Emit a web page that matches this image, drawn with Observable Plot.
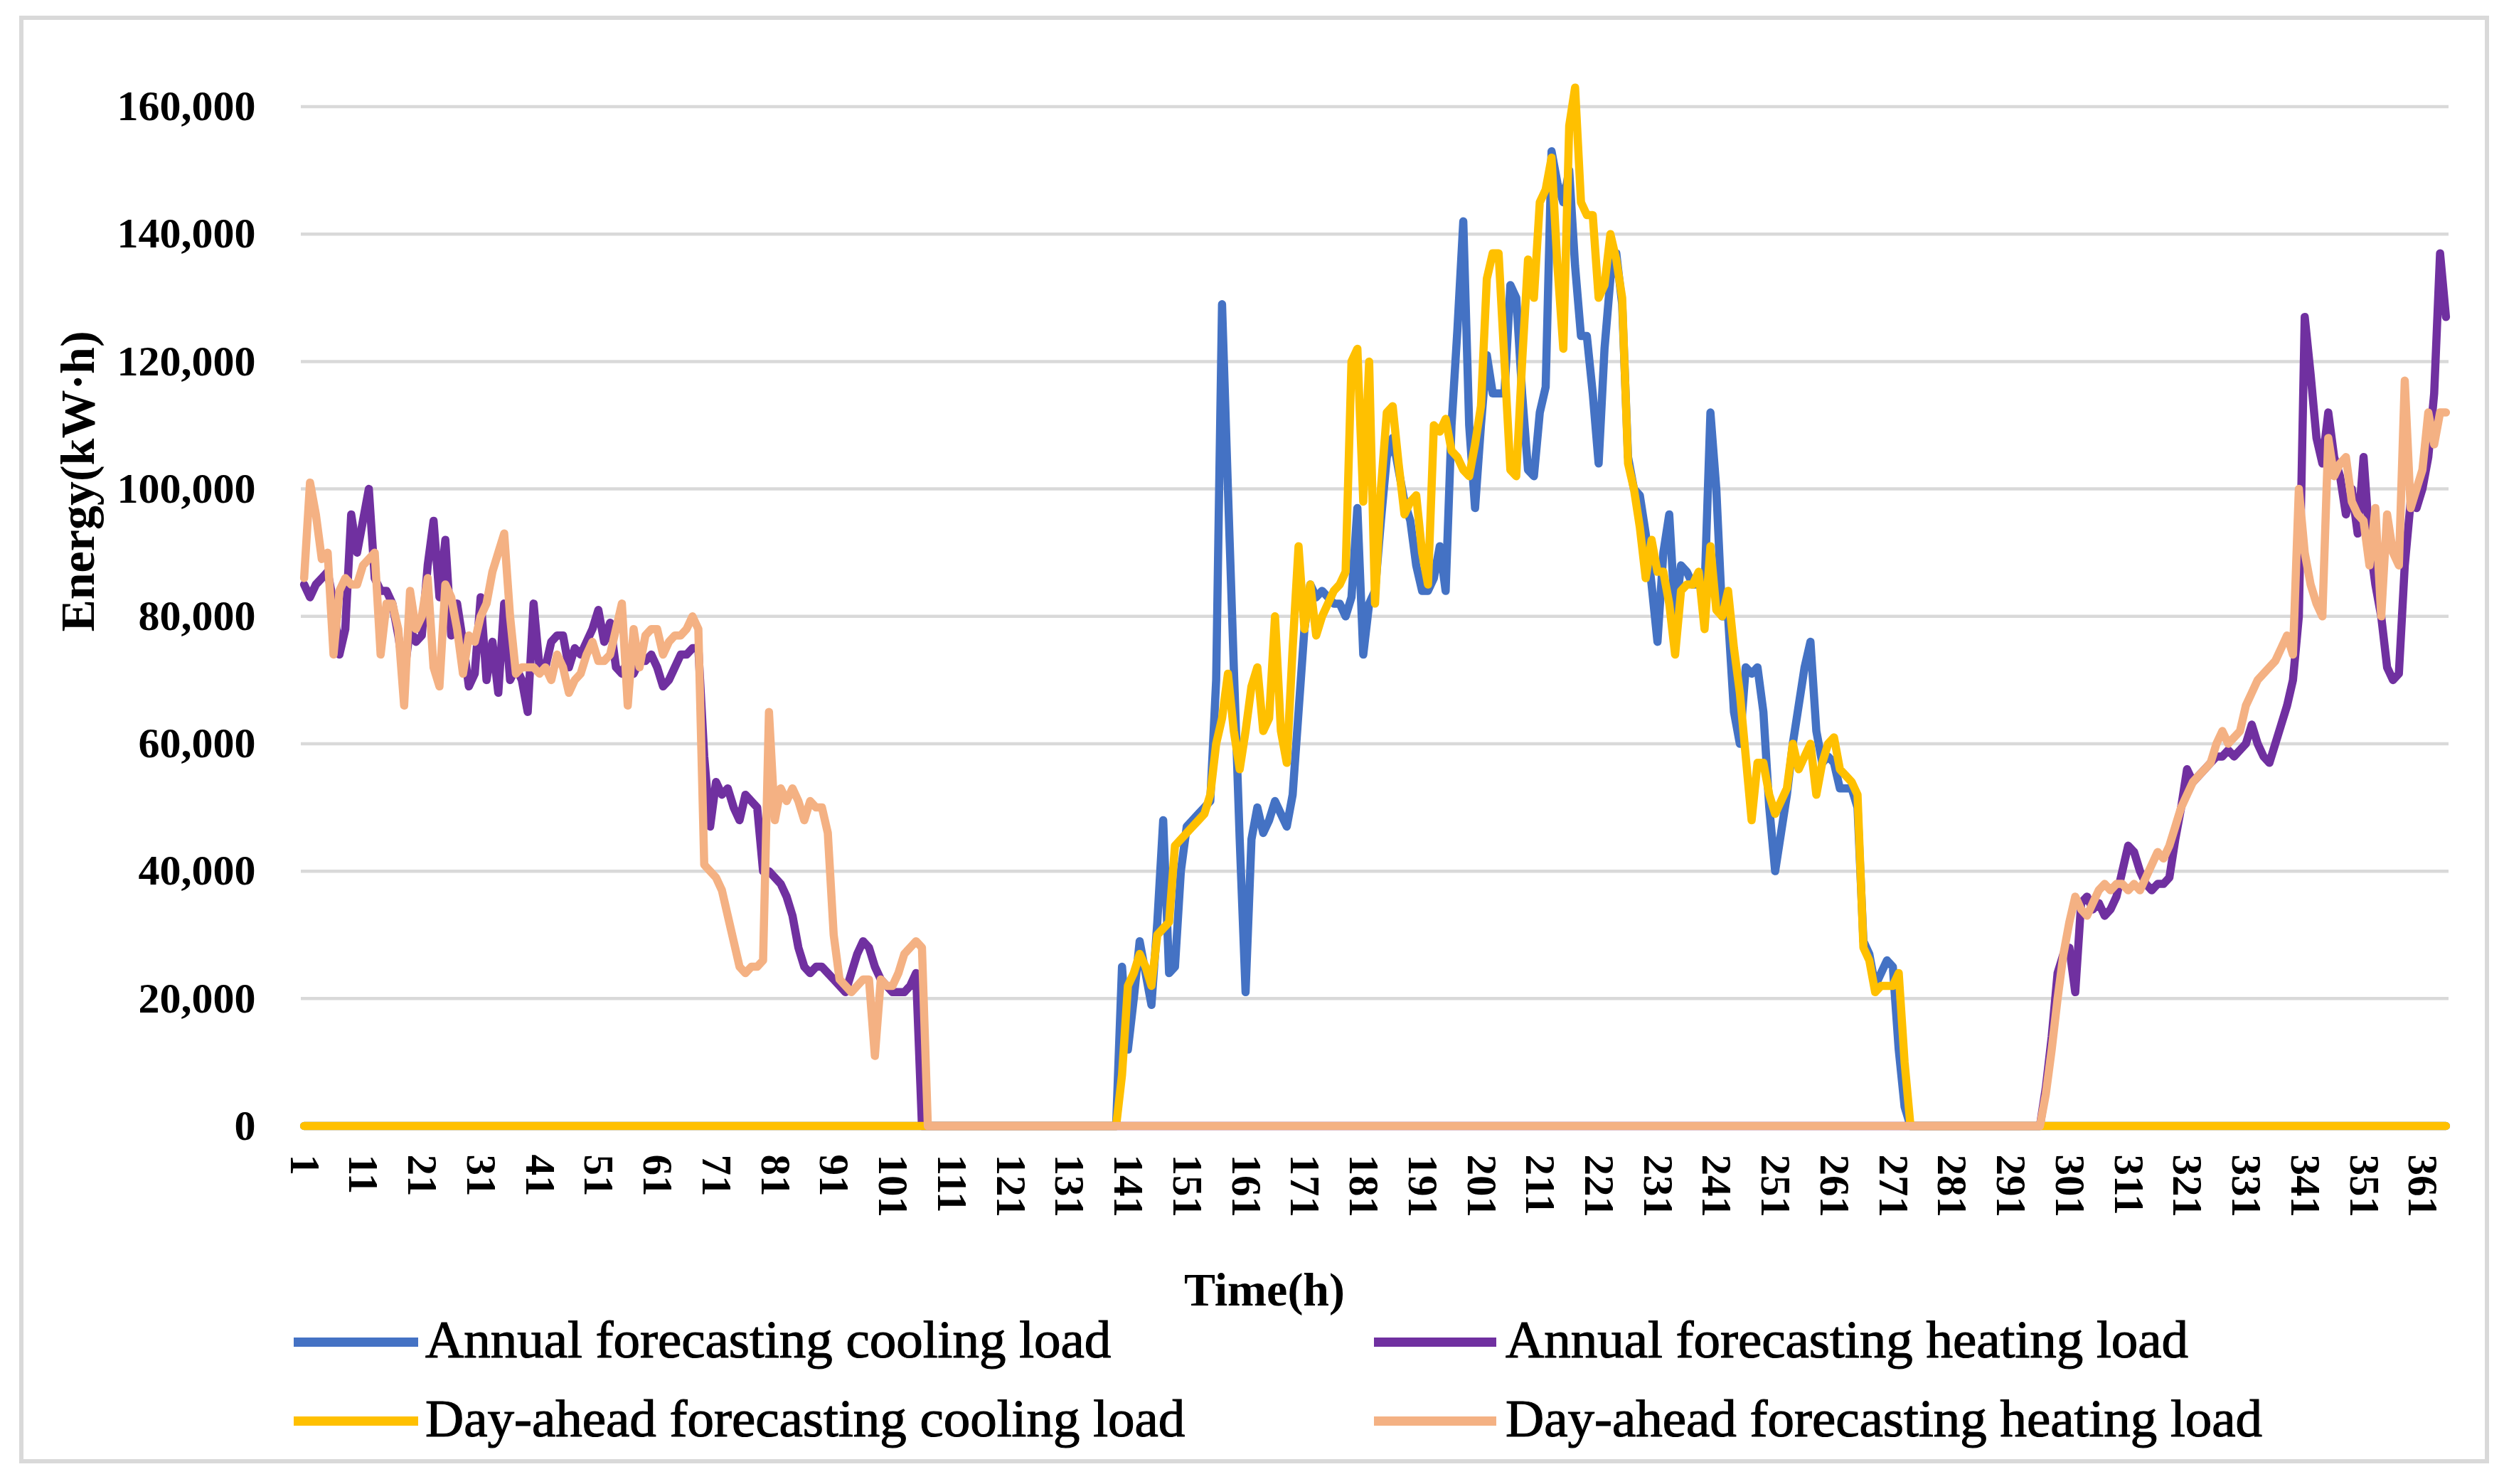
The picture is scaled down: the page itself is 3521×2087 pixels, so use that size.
<!DOCTYPE html>
<html><head><meta charset="utf-8">
<script src="https://cdn.jsdelivr.net/npm/d3@7"></script>
<script src="https://cdn.jsdelivr.net/npm/@observablehq/plot@0.6"></script>
<style>
html,body{margin:0;padding:0;background:#fff;}
#wrap{position:relative;width:3521px;height:2087px;overflow:hidden;background:#fff;font-family:"Liberation Serif",serif;color:#000;}
#frame{position:absolute;left:27px;top:22px;width:3473px;height:2036px;border:6px solid #d9d9d9;box-sizing:border-box;}
#chart{position:absolute;left:0;top:0;}
.lab{position:absolute;white-space:nowrap;line-height:1;}
.leg{-webkit-text-stroke:1.2px #000;}
.sw{position:absolute;height:13px;}
</style></head><body>
<div id="wrap"><div id="frame"></div><div id="chart"></div></div>
<script>
// values in thousand kW·h, one per day (1..365)
const xTickLabels = [1,11,21,31,41,51,61,71,81,91,101,111,121,131,141,151,161,171,181,191,201,211,221,231,241,251,261,271,281,291,301,311,321,331,341,351,361];
const yTicks = [0,20000,40000,60000,80000,100000,120000,140000,160000];

const annualCooling = [
0,0,0,0,0,0,0,0,0,0,0,0,0,0,0,0,0,0,0,0,
0,0,0,0,0,0,0,0,0,0,0,0,0,0,0,0,0,0,0,0,
0,0,0,0,0,0,0,0,0,0,0,0,0,0,0,0,0,0,0,0,
0,0,0,0,0,0,0,0,0,0,0,0,0,0,0,0,0,0,0,0,
0,0,0,0,0,0,0,0,0,0,0,0,0,0,0,0,0,0,0,0,
0,0,0,0,0,0,0,0,0,0,0,0,0,0,0,0,0,0,0,0,
0,0,0,0,0,0,0,0,0,0,0,0,0,0,0,0,0,0,0,25,
12,20,29,24,19,32,48,24,25,40,47,48,49,50,51,70,129,100,72,45,
21,45,50,46,48,51,49,47,52,65,78,85,83,84,83,82,82,80,83,97,
74,82,84,95,105,108,103,98,95,88,84,84,86,91,84,110,125,142,110,97,
110,121,115,115,115,132,130,115,103,102,112,116,153,148,145,150,135,124,124,115,
104,122,133,137,129,105,100,99,93,85,76,90,96,80,88,87,85,85,84,112,
100,80,80,65,60,72,71,72,65,50,40,46,52,60,66,72,76,62,57,58,
57,53,53,53,50,29,27,22,24,26,25,12,3,0,0,0,0,0,0,0,
0,0,0,0,0,0,0,0,0,0,0,0,0,0,0,0,0,0,0,0,
0,0,0,0,0,0,0,0,0,0,0,0,0,0,0,0,0,0,0,0,
0,0,0,0,0,0,0,0,0,0,0,0,0,0,0,0,0,0,0,0,
0,0,0,0,0,0,0,0,0,0,0,0,0,0,0,0,0,0,0,0,
0,0,0,0,0];

const annualHeating = [
85,83,85,86,87,82,74,78,96,90,95,100,86,84,84,82,77,71,78,76,
77,88,95,83,92,77,82,76,69,71,83,70,76,68,82,70,72,70,65,82,
72,72,76,77,77,72,75,74,76,78,81,76,79,72,71,73,71,73,73,74,
72,69,70,72,74,74,75,75,58,47,54,52,53,50,48,52,51,50,40,40,
39,38,36,33,28,25,24,25,25,24,23,22,21,24,27,29,28,25,23,22,
21,21,21,22,24,0,0,0,0,0,0,0,0,0,0,0,0,0,0,0,
0,0,0,0,0,0,0,0,0,0,0,0,0,0,0,0,0,0,0,0,
0,0,0,0,0,0,0,0,0,0,0,0,0,0,0,0,0,0,0,0,
0,0,0,0,0,0,0,0,0,0,0,0,0,0,0,0,0,0,0,0,
0,0,0,0,0,0,0,0,0,0,0,0,0,0,0,0,0,0,0,0,
0,0,0,0,0,0,0,0,0,0,0,0,0,0,0,0,0,0,0,0,
0,0,0,0,0,0,0,0,0,0,0,0,0,0,0,0,0,0,0,0,
0,0,0,0,0,0,0,0,0,0,0,0,0,0,0,0,0,0,0,0,
0,0,0,0,0,0,0,0,0,0,0,0,0,0,0,0,0,0,0,0,
0,0,0,0,0,0,0,0,0,0,0,0,0,0,0,0,6,14,24,27,
28,21,35,36,34,35,33,34,36,40,44,43,40,38,37,38,38,39,45,50,
56,54,55,56,57,58,58,59,58,59,60,63,60,58,57,60,63,66,70,80,
127,118,108,104,112,105,102,96,100,93,105,92,85,80,72,70,71,88,98,97,
100,105,115,137,127];

const dayAheadCooling = [
0,0,0,0,0,0,0,0,0,0,0,0,0,0,0,0,0,0,0,0,
0,0,0,0,0,0,0,0,0,0,0,0,0,0,0,0,0,0,0,0,
0,0,0,0,0,0,0,0,0,0,0,0,0,0,0,0,0,0,0,0,
0,0,0,0,0,0,0,0,0,0,0,0,0,0,0,0,0,0,0,0,
0,0,0,0,0,0,0,0,0,0,0,0,0,0,0,0,0,0,0,0,
0,0,0,0,0,0,0,0,0,0,0,0,0,0,0,0,0,0,0,0,
0,0,0,0,0,0,0,0,0,0,0,0,0,0,0,0,0,0,0,8,
22,24,27,25,22,30,31,32,44,45,46,47,48,49,52,60,64,71,62,56,
62,69,72,62,64,80,62,57,75,91,78,85,77,80,82,84,85,87,120,122,
98,120,82,100,112,113,104,96,98,99,90,85,110,109,111,106,105,103,102,107,
113,133,137,137,120,103,102,120,136,130,145,147,152,135,122,157,163,145,143,143,
130,132,140,136,130,104,100,94,86,92,87,87,82,74,84,85,85,87,78,91,
81,80,84,75,68,58,48,57,57,52,49,51,53,60,56,58,60,52,57,60,
61,56,55,54,52,28,26,21,22,22,22,24,10,0,0,0,0,0,0,0,
0,0,0,0,0,0,0,0,0,0,0,0,0,0,0,0,0,0,0,0,
0,0,0,0,0,0,0,0,0,0,0,0,0,0,0,0,0,0,0,0,
0,0,0,0,0,0,0,0,0,0,0,0,0,0,0,0,0,0,0,0,
0,0,0,0,0,0,0,0,0,0,0,0,0,0,0,0,0,0,0,0,
0,0,0,0,0];

const dayAheadHeating = [
86,101,96,89,90,74,84,86,85,85,88,89,90,74,82,82,78,66,84,78,
80,86,72,69,85,83,78,71,77,76,80,82,87,90,93,80,71,72,72,72,
71,72,70,74,72,68,70,71,74,76,73,73,74,78,82,66,78,72,77,78,
78,74,76,77,77,78,80,78,41,40,39,37,33,29,25,24,25,25,26,65,
48,53,51,53,51,48,51,50,50,46,30,23,22,21,22,23,23,11,23,22,
22,24,27,28,29,28,0,0,0,0,0,0,0,0,0,0,0,0,0,0,
0,0,0,0,0,0,0,0,0,0,0,0,0,0,0,0,0,0,0,0,
0,0,0,0,0,0,0,0,0,0,0,0,0,0,0,0,0,0,0,0,
0,0,0,0,0,0,0,0,0,0,0,0,0,0,0,0,0,0,0,0,
0,0,0,0,0,0,0,0,0,0,0,0,0,0,0,0,0,0,0,0,
0,0,0,0,0,0,0,0,0,0,0,0,0,0,0,0,0,0,0,0,
0,0,0,0,0,0,0,0,0,0,0,0,0,0,0,0,0,0,0,0,
0,0,0,0,0,0,0,0,0,0,0,0,0,0,0,0,0,0,0,0,
0,0,0,0,0,0,0,0,0,0,0,0,0,0,0,0,0,0,0,0,
0,0,0,0,0,0,0,0,0,0,0,0,0,0,0,0,5,12,20,27,
32,36,34,33,35,37,38,37,38,38,37,38,37,39,41,43,42,44,47,50,
52,54,55,56,57,60,62,60,61,62,66,68,70,71,72,73,75,77,74,100,
90,85,82,80,108,102,104,105,98,96,95,88,97,80,96,90,88,117,97,100,
103,112,107,112,112];

const seriesNames = ["Annual forecasting cooling load","Annual forecasting heating load","Day-ahead forecasting cooling load","Day-ahead forecasting heating load"];
const seriesColors = ["#4472C4","#7030A0","#FFC000","#F4B183"];
const seriesValues = [annualCooling, annualHeating, dayAheadCooling, dayAheadHeating];

const days = d3.range(1, 366);
const rows = (arr) => days.map((d, i) => ({day: d, value: (arr[i] ?? 0) * 1000}));

const chart = Plot.plot({
  width: 3521,
  height: 1760,
  marginLeft: 423,
  marginRight: 78,
  marginTop: 60,
  marginBottom: 177,
  style: {fontFamily: "'Liberation Serif', serif", background: "transparent", color: "#000", overflow: "visible"},
  x: {domain: [0.5, 365.5]},
  y: {domain: [0, 170000]},
  marks: [
    Plot.gridY(yTicks, {stroke: "#d9d9d9", strokeOpacity: 1, strokeWidth: 4.5}),
    Plot.axisY(yTicks, {tickSize: 0, tickPadding: 64, tickFormat: d3.format(","), fontSize: 60, fontWeight: "bold", label: null}),
    Plot.axisX(xTickLabels, {tickSize: 0, tickRotate: 90, tickPadding: 40, tickFormat: d => String(d), fontSize: 59, fontWeight: "bold", label: null}),
    ...[0, 1, 2, 3].map(k => Plot.lineY(rows(seriesValues[k]), {x: "day", y: "value", stroke: seriesColors[k], strokeWidth: 11.5, strokeLinejoin: "round", strokeLinecap: "round"}))
  ]
});
document.getElementById("chart").appendChild(chart);

const wrap = document.getElementById("wrap");
function addLabel(text, left, baseline, size, weight, extra, cls) {
  const el = document.createElement("div");
  el.className = "lab" + (cls ? " " + cls : "");
  el.textContent = text;
  el.style.fontSize = size + "px";
  el.style.fontWeight = weight;
  el.style.left = left + "px";
  el.style.top = (baseline - 0.8375 * size) + "px";
  if (extra) Object.assign(el.style, extra);
  wrap.appendChild(el);
  return el;
}
// x-axis title
addLabel("Time(h)", 1778, 1836, 66, "bold", {transform: "translateX(-50%)"});
// y-axis title (rotated)
const yl = document.createElement("div");
yl.className = "lab";
yl.textContent = "Energy(kW·h)";
Object.assign(yl.style, {fontSize: "68px", fontWeight: "bold", width: "700px", height: "68px", textAlign: "center",
  left: (109 - 350) + "px", top: (677 - 34) + "px", transform: "rotate(-90deg)", transformOrigin: "50% 50%"});
wrap.appendChild(yl);

// legend
const legendPos = [
  {sx: 413, sw: 175, cy: 1887, tx: 598, base: 1909},
  {sx: 1932, sw: 172, cy: 1887, tx: 2117, base: 1909},
  {sx: 413, sw: 175, cy: 1998, tx: 598, base: 2020},
  {sx: 1932, sw: 172, cy: 1998, tx: 2117, base: 2020}
];
legendPos.forEach((p, k) => {
  const s = document.createElement("div");
  s.className = "sw";
  Object.assign(s.style, {left: p.sx + "px", top: (p.cy - 6.5) + "px", width: p.sw + "px", background: seriesColors[k]});
  wrap.appendChild(s);
  addLabel(seriesNames[k], p.tx, p.base, 75, "normal", null, "leg");
});
</script>
</body></html>
